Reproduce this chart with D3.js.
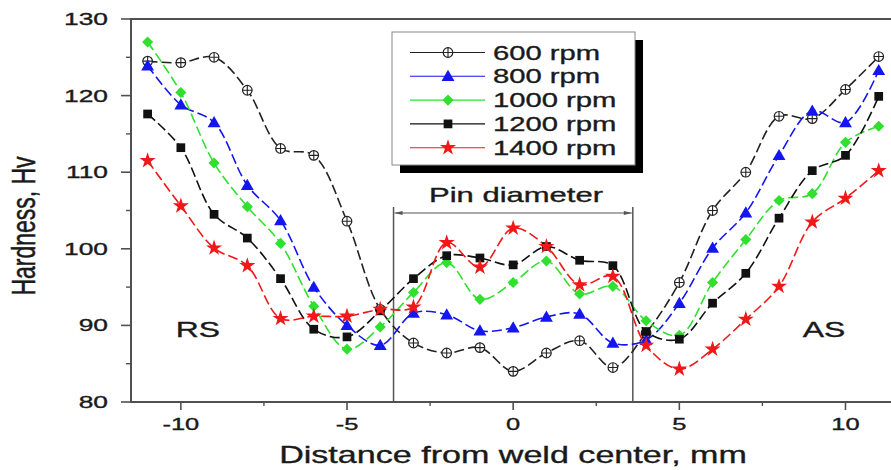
<!DOCTYPE html>
<html>
<head>
<meta charset="utf-8">
<script src="https://cdn.jsdelivr.net/npm/d3@7"></script>
<style>
  body { margin: 0; background: #fff; }
  svg { display: block; font-family: "Liberation Sans", Arial, sans-serif; }
  text { stroke: #1a1a1a; stroke-width: 0.35px; }
</style>
</head>
<body>
<svg id="chart" width="891" height="470"></svg>
<script>
// distance from weld center (mm) and hardness (Hv) per rotation speed
const distance = [-11, -10, -9, -8, -7, -6, -5, -4, -3, -2, -1, 0, 1, 2, 3, 4, 5, 6, 7, 8, 9, 10, 11]
const hv600  = [124.5, 124.3, 125.0, 120.7, 113.1, 112.2, 103.6, 92.1, 87.7, 86.4, 87.1, 84.0, 86.4, 88.0, 84.5, 89.0, 95.6, 105.0, 110.0, 117.3, 117.0, 120.8, 125.1]
const hv800  = [123.9, 118.8, 116.5, 108.3, 103.7, 95.0, 90.0, 87.4, 91.6, 91.4, 89.3, 89.7, 91.1, 91.5, 87.7, 88.1, 92.9, 100.1, 104.7, 112.2, 118.0, 116.5, 123.3]
const hv1000 = [127.0, 120.4, 111.2, 105.5, 100.7, 92.5, 86.9, 89.8, 94.3, 98.2, 93.4, 95.6, 98.4, 94.1, 95.1, 90.6, 88.7, 95.6, 101.2, 106.3, 107.2, 113.9, 116.0]
const hv1200 = [117.6, 113.2, 104.5, 101.4, 96.1, 89.5, 88.5, 91.9, 96.1, 99.1, 98.8, 97.9, 100.3, 98.5, 97.8, 89.2, 88.2, 92.9, 96.8, 104.0, 110.2, 112.2, 119.9]
const hv1400 = [111.5, 105.6, 100.1, 97.8, 90.9, 91.2, 91.2, 92.1, 92.4, 100.8, 97.6, 102.7, 100.3, 95.3, 96.4, 87.4, 84.3, 86.9, 90.8, 95.1, 103.5, 106.6, 110.2]

const seriesNames = ['600 rpm', '800 rpm', '1000 rpm', '1200 rpm', '1400 rpm']
const yTicks = [80, 90, 100, 110, 120, 130]
const xTicks = [-10, -5, 0, 5, 10]
const pinEdges = [-3.6, 3.6]

const chart = {
  left: 131,
  top: 19,
  bottom: 402,
  right: 897,
  stretch: 1.5,   // the figure is widened horizontally, text included
  axisColor: '#505050'
}

const series = [
  {name: seriesNames[0], values: hv600,  color: '#222', symbol: 'crosscircle'},
  {name: seriesNames[1], values: hv800,  color: '#1515f0', symbol: 'triangle'},
  {name: seriesNames[2], values: hv1000, color: '#2fe02f', symbol: 'diamond'},
  {name: seriesNames[3], values: hv1200, color: '#111', symbol: 'square'},
  {name: seriesNames[4], values: hv1400, color: '#f01818', symbol: 'star'}
]

const svg = d3.select('#chart')

const x = d3.scaleLinear().domain([-11.5, 11.55]).range([chart.left, chart.right])
const y = d3.scaleLinear().domain([80, 130]).range([chart.bottom, chart.top])

function stretchedText(g, tx, ty, str, size, anchor, sx) {
  return g.append('text')
    .attr('transform', `translate(${tx},${ty}) scale(${sx || chart.stretch},1)`)
    .attr('text-anchor', anchor || 'middle')
    .attr('font-size', size)
    .attr('fill', '#1a1a1a')
    .text(str)
}

function drawMarker(g, kind, cx, cy, color) {
  if (kind === 'crosscircle') {
    const m = g.append('g').attr('transform', `translate(${cx},${cy})`)
    m.append('circle').attr('r', 4.8).attr('fill', '#fff').attr('stroke', '#222').attr('stroke-width', 1.2)
    m.append('path').attr('d', 'M-4.8,0H4.8M0,-4.8V4.8').attr('stroke', '#222').attr('stroke-width', 1.1)
    return
  }
  const shapes = {
    triangle: [d3.symbolTriangle, 72, 0, 1],
    diamond: [d3.symbolSquare, 62, 45, 0],
    square: [d3.symbolSquare, 76, 0, 0],
    star: [d3.symbolStar, 80, 0, 0]
  }
  const [type, size, rot, dy] = shapes[kind]
  g.append('path')
    .attr('d', d3.symbol(type, size)())
    .attr('transform', `translate(${cx},${cy + dy}) rotate(${rot})`)
    .attr('fill', color)
}

// frame
const frame = svg.append('g')
  .attr('stroke', chart.axisColor)
  .attr('stroke-width', 2)
  .attr('fill', 'none')
frame.append('path')
  .attr('d', `M${chart.right},${chart.top}H${chart.left}V${chart.bottom}H${chart.right}`)

// y axis ticks
const yAxis = svg.append('g')
yAxis.selectAll('line.major')
  .data(yTicks)
  .join('line')
  .attr('x1', chart.left - 10).attr('x2', chart.left)
  .attr('y1', d => y(d)).attr('y2', d => y(d))
  .attr('stroke', chart.axisColor).attr('stroke-width', 1.6)
yAxis.selectAll('line.minor')
  .data(yTicks.slice(0, -1).map(d => d + 5))
  .join('line')
  .attr('x1', chart.left - 5).attr('x2', chart.left)
  .attr('y1', d => y(d)).attr('y2', d => y(d))
  .attr('stroke', chart.axisColor).attr('stroke-width', 1.4)
yTicks.forEach(d => stretchedText(yAxis, 108, y(d) + 6, d, 17, 'end', 1.55))

// x axis ticks
const xAxis = svg.append('g')
xAxis.selectAll('line.major')
  .data(xTicks)
  .join('line')
  .attr('x1', d => x(d)).attr('x2', d => x(d))
  .attr('y1', chart.bottom).attr('y2', chart.bottom + 8)
  .attr('stroke', chart.axisColor).attr('stroke-width', 1.6)
xAxis.selectAll('line.minor')
  .data(xTicks.slice(0, -1).map(d => d + 2.5))
  .join('line')
  .attr('x1', d => x(d)).attr('x2', d => x(d))
  .attr('y1', chart.bottom).attr('y2', chart.bottom + 4)
  .attr('stroke', chart.axisColor).attr('stroke-width', 1.4)
xTicks.forEach(d => stretchedText(xAxis, x(d), 430, d < 0 ? '-' + Math.abs(d) : d, 17, 'middle', 1.5))

// axis titles
stretchedText(svg, 513, 463, 'Distance from weld center, mm', 24, 'middle', 1.42)
svg.append('text')
  .attr('transform', `translate(35,226) rotate(-90) scale(1,1.45)`)
  .attr('text-anchor', 'middle')
  .attr('font-size', 23)
  .attr('fill', '#1a1a1a')
  .text('Hardness, Hv')

// pin diameter marks
const pin = svg.append('g').attr('stroke', '#555').attr('fill', 'none')
pin.selectAll('line.edge')
  .data(pinEdges)
  .join('line')
  .attr('x1', d => x(d)).attr('x2', d => x(d))
  .attr('y1', 207).attr('y2', chart.bottom)
  .attr('stroke-width', 1.5)
pin.append('line')
  .attr('x1', x(pinEdges[0]) + 1).attr('x2', x(pinEdges[1]) - 1)
  .attr('y1', 213).attr('y2', 213)
  .attr('stroke-width', 1)
pin.selectAll('path.head')
  .data(pinEdges)
  .join('path')
  .attr('d', d => {
    const px = x(d) + (d < 0 ? 1 : -1)
    const s = d < 0 ? 1 : -1
    return `M${px},213L${px + 8 * s},211L${px + 8 * s},215Z`
  })
  .attr('fill', '#555').attr('stroke', 'none')
stretchedText(svg, 516, 202, 'Pin diameter', 20, 'middle', 1.55)

stretchedText(svg, 198, 337, 'RS', 22, 'middle', 1.45)
stretchedText(svg, 824, 337, 'AS', 22, 'middle', 1.45)

// series lines and markers
const line = d3.line()
  .x((d, i) => x(distance[i]))
  .y(d => y(d))
  .curve(d3.curveCatmullRom.alpha(0.5))

const plot = svg.append('g')
series.forEach(s => {
  plot.append('path')
    .datum(s.values)
    .attr('d', line)
    .attr('fill', 'none')
    .attr('stroke', s.color)
    .attr('stroke-width', 1.6)
    .attr('stroke-dasharray', '10,4')
})
series.forEach(s => {
  const g = plot.append('g')
  s.values.forEach((v, i) => drawMarker(g, s.symbol, x(distance[i]), y(v), s.color))
})

// legend
const legend = svg.append('g')
legend.append('rect')
  .attr('x', 400).attr('y', 40).attr('width', 243).attr('height', 133)
  .attr('fill', '#000')
legend.append('rect')
  .attr('x', 392).attr('y', 32).attr('width', 243).attr('height', 133)
  .attr('fill', '#fff').attr('stroke', '#888').attr('stroke-width', 1)
series.forEach((s, i) => {
  const ly = 52.5 + i * 23.8
  legend.append('line')
    .attr('x1', 410).attr('x2', 485)
    .attr('y1', ly).attr('y2', ly)
    .attr('stroke', s.color).attr('stroke-width', 1.1)
  drawMarker(legend, s.symbol, 448, ly, s.color)
  stretchedText(legend, 493, ly + 7, s.name, 20, 'start', 1.46)
})
</script>
</body>
</html>
